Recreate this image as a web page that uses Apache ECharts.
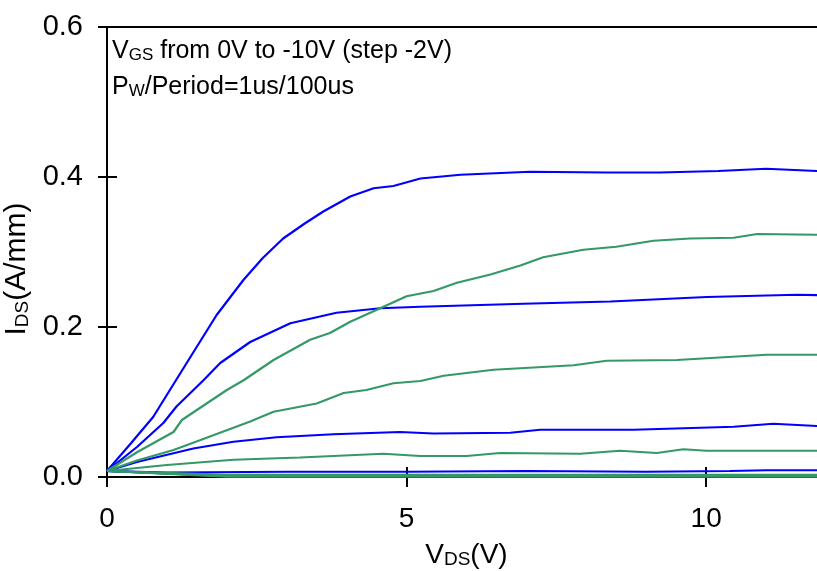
<!DOCTYPE html>
<html><head><meta charset="utf-8">
<script src="https://cdn.jsdelivr.net/npm/echarts@6/dist/echarts.min.js"></script>
<style>html,body{margin:0;padding:0;background:#fff}#c{width:817px;height:571px}</style>
</head><body><div id="c"></div>
<script>
// ---- data (VDS in V, IDS in A/mm) ----
const xTicks = [0, 5, 10];
const yTicks = [0, 0.2, 0.4, 0.6];

// blue family
const vB0 = [0, 0.4, 0.77, 1.05, 1.4, 1.83, 2.28, 2.6, 2.94, 3.3, 3.61, 4.06, 4.45, 4.78, 5.23, 5.9, 7.06, 8.34, 9.23, 10.2, 11.0, 11.85, 12.2];
const iB0 = [0.008, 0.045, 0.08, 0.116, 0.161, 0.216, 0.263, 0.292, 0.318, 0.338, 0.354, 0.374, 0.385, 0.388, 0.398, 0.403, 0.407, 0.406, 0.406, 0.408, 0.411, 0.408, 0.408];
const vB1 = [0, 0.5, 0.94, 1.16, 1.61, 1.89, 2.39, 3.06, 3.83, 4.56, 5.23, 6.95, 8.4, 10.01, 11.51, 12.2];
const iB1 = [0.008, 0.04, 0.072, 0.094, 0.129, 0.152, 0.180, 0.205, 0.219, 0.225, 0.227, 0.231, 0.234, 0.240, 0.243, 0.242];
const vB2 = [0, 0.5, 1.44, 2.11, 2.83, 3.78, 4.89, 5.45, 6.73, 7.23, 8.79, 10.46, 11.12, 11.85, 12.2];
const iB2 = [0.008, 0.02, 0.038, 0.047, 0.053, 0.057, 0.060, 0.058, 0.059, 0.063, 0.063, 0.067, 0.071, 0.068, 0.068];
const vB3 = [0, 1, 3, 5, 7, 9, 10.4, 11, 12.2];
const iB3 = [0.008, 0.006, 0.007, 0.007, 0.008, 0.007, 0.008, 0.009, 0.009];
const vB4 = [0, 2, 6, 12.2];
const iB4 = [0.008, 0.002, 0.002, 0.002];
const vB5 = [0, 2, 6, 12.2];
const iB5 = [0.008, 0.001, 0.001, 0.001];

// green family
const vG0 = [0, 0.5, 1.11, 1.25, 1.55, 2.0, 2.28, 2.78, 3.39, 3.72, 4.06, 4.56, 5.0, 5.45, 5.84, 6.4, 6.9, 7.28, 7.95, 8.5, 9.12, 9.73, 10.46, 10.85, 11.85, 12.2];
const iG0 = [0.008, 0.033, 0.060, 0.076, 0.092, 0.116, 0.129, 0.156, 0.183, 0.192, 0.207, 0.225, 0.241, 0.248, 0.259, 0.270, 0.282, 0.293, 0.303, 0.307, 0.315, 0.318, 0.319, 0.324, 0.323, 0.323];
const vG1 = [0, 0.5, 1.11, 1.55, 2.39, 2.78, 3.5, 3.95, 4.33, 4.78, 5.23, 5.62, 6.45, 7.79, 8.34, 9.51, 11.01, 12.2];
const iG1 = [0.008, 0.022, 0.036, 0.049, 0.074, 0.087, 0.098, 0.112, 0.116, 0.125, 0.128, 0.135, 0.143, 0.149, 0.155, 0.156, 0.163, 0.163];
const vG2 = [0, 1.0, 2.11, 3.22, 4.61, 5.23, 6.0, 6.56, 7.9, 8.56, 9.18, 9.62, 10.0, 11.85, 12.2];
const iG2 = [0.008, 0.016, 0.023, 0.026, 0.031, 0.028, 0.028, 0.032, 0.031, 0.035, 0.032, 0.037, 0.035, 0.035, 0.035];
const vG3 = [0, 2, 6, 12.2];
const iG3 = [0.008, 0.003, 0.003, 0.003];
const vG4 = [0, 2, 6, 12.2];
const iG4 = [0.008, 0.0015, 0.0015, 0.0015];
const vG5 = [0, 2, 6, 12.2];
const iG5 = [0.008, 0.0005, 0.0005, 0.0005];

const blueCurves = [[vB0, iB0], [vB1, iB1], [vB2, iB2], [vB3, iB3], [vB4, iB4], [vB5, iB5]];
const greenCurves = [[vG0, iG0], [vG1, iG1], [vG2, iG2], [vG3, iG3], [vG4, iG4], [vG5, iG5]];

const BLUE = '#0000ff';
const GREEN = '#339966';
const FONT = "'Liberation Sans', Arial, sans-serif";

const pair = (v, i) => v.map((x, k) => [x, i[k]]);
const mk = (c, color) => ({
  type: 'line', xAxisIndex: 0, yAxisIndex: 0, data: pair(c[0], c[1]),
  showSymbol: false, symbol: 'none', lineStyle: { color: color, width: 2.2 },
  itemStyle: { color: color }, animation: false, silent: true
});
const series = [...blueCurves.map(c => mk(c, BLUE)), ...greenCurves.map(c => mk(c, GREEN))];

const richText = (big, small, sub) => ({
  m: { fontSize: big, fontFamily: FONT, color: '#000', fontWeight: 'normal' },
  s: { fontSize: small, fontFamily: FONT, color: '#000', fontWeight: 'normal', verticalAlign: 'bottom', lineHeight: sub }
});

const chart = echarts.init(document.getElementById('c'));
chart.setOption({
  backgroundColor: '#fff',
  animation: false,
  title: [
    { text: '{m|V}{s|GS}{m| from 0V to -10V (step -2V)}', left: 112, top: 39, padding: 0,
      textStyle: { fontWeight: 'normal', rich: richText(25, 17, 10) } },
    { text: '{m|P}{s|W}{m|/Period=1us/100us}', left: 112, top: 75, padding: 0,
      textStyle: { fontWeight: 'normal', rich: richText(25, 17, 10) } }
  ],
  grid: { left: 107, top: 27, right: -9, bottom: 94, outerBoundsMode: 'none', containLabel: false,
          show: true, borderColor: '#000', borderWidth: 2, backgroundColor: 'transparent' },
  xAxis: [
    { type: 'value', position: 'bottom', min: 0, max: 12,
      axisLine: { show: true, onZero: false, lineStyle: { color: '#000', width: 2 } },
      axisTick: { show: true, inside: false, length: 10, customValues: xTicks, lineStyle: { color: '#000', width: 2 } },
      axisLabel: { show: true, customValues: xTicks, margin: 28, fontSize: 28, fontFamily: FONT, color: '#000' },
      splitLine: { show: false },
      name: '{m|V}{s|DS}{m|(V)}', nameLocation: 'middle', nameGap: 64,
      nameTextStyle: { rich: richText(28, 19, 12) }
    },
    { type: 'value', position: 'top', offset: -450, min: 0, max: 12,
      axisLine: { show: false, onZero: false },
      axisTick: { show: true, inside: false, length: 10, customValues: xTicks, lineStyle: { color: '#000', width: 2 } },
      axisLabel: { show: false }, splitLine: { show: false }
    }
  ],
  yAxis: [
    { type: 'value', position: 'left', min: 0, max: 0.6, interval: 0.2,
      axisLine: { show: true, onZero: false, lineStyle: { color: '#000', width: 2 } },
      axisTick: { show: true, inside: false, length: 9, lineStyle: { color: '#000', width: 2 } },
      axisLabel: { show: true, customValues: yTicks, margin: 24, fontSize: 29, fontFamily: FONT, color: '#000', formatter: v => v.toFixed(1) },
      splitLine: { show: false },
      name: '{m|I}{s|DS}{m|(A/mm)}', nameLocation: 'middle', nameGap: 68,
      nameTextStyle: { padding: [0, 34, 0, 0], rich: richText(30, 19, 12) }
    },
    { type: 'value', position: 'right', offset: -719, min: 0, max: 0.6, interval: 0.2,
      axisLine: { show: false, onZero: false },
      axisTick: { show: true, inside: false, length: 10, customValues: [0.2, 0.4], lineStyle: { color: '#000', width: 2 } },
      axisLabel: { show: false }, splitLine: { show: false }
    }
  ],
  series: series
});
</script>
</body></html>
